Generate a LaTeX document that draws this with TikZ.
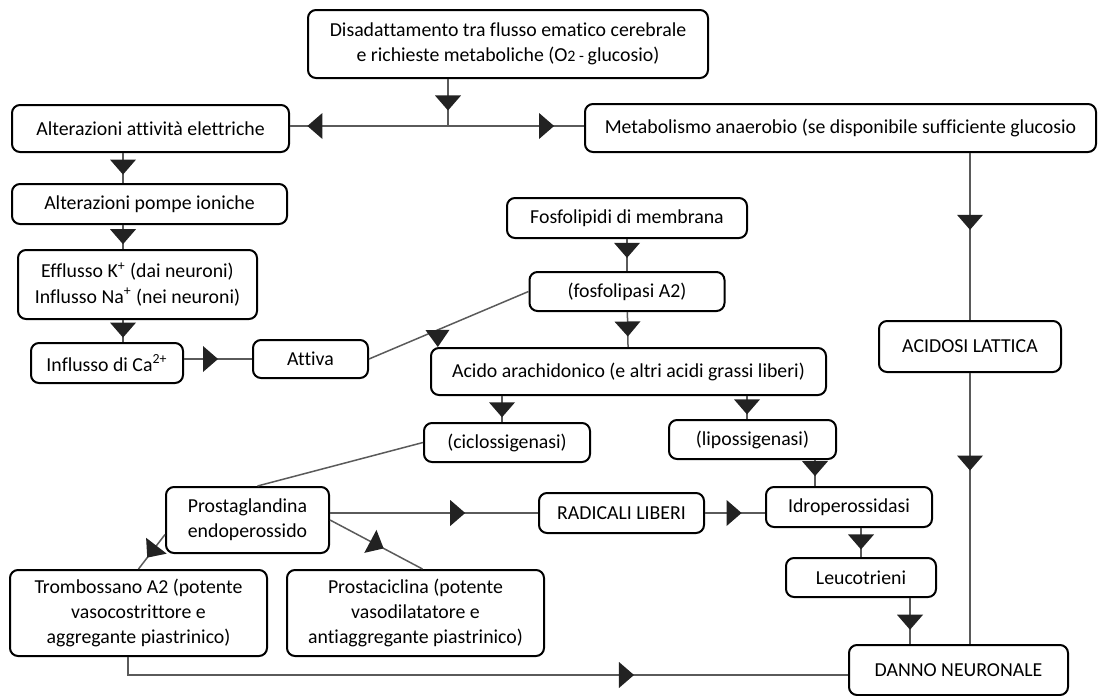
\documentclass[tikz,border=0pt]{standalone}
\usepackage{fontspec}
\setmainfont{Carlito}[Ligatures={NoCommon}]
\definecolor{LineGrey}{HTML}{5A5A5A}
\definecolor{TipDark}{HTML}{222222}
\usetikzlibrary{positioning,decorations.markings}

\begin{document}
\begin{tikzpicture}[
  x=0.5pt,y=-0.5pt,
  every node/.style={font=\fontsize{9.9}{12.6}\selectfont,align=center},
  box/.style={draw=black,line width=1pt,rounded corners=4pt,fill=white,inner sep=0pt},
  conn/.style={draw=LineGrey,line width=0.75pt},
  midtip/.style={postaction={decorate,decoration={markings,mark=at position #1 with {\fill[TipDark] (0,0) -- (-7.5pt,6.5pt) -- (-7.5pt,-6.5pt) -- cycle;}}}},
  turntip/.style 2 args={postaction={decorate,decoration={markings,mark=at position #1 with {\fill[TipDark,rotate=#2] (8.5pt,0) -- (0,6pt) -- (0,-6pt) -- cycle;}}}}
]
\useasboundingbox (0,0) rectangle (1099,696);

\node[box,minimum width=200pt,minimum height=34pt] (dis) at (508,44) {Disadattamento tra flusso ematico cerebrale\\e richieste metaboliche (O{\footnotesize 2 - }glucosio)};
\node[box,minimum width=138.5pt,minimum height=23.5pt] (alt) at (150.5,128.5) {Alterazioni attività elettriche};
\node[box,minimum width=255.5pt,minimum height=24pt] (meta) at (840.5,128) {Metabolismo anaerobio (se disponibile sufficiente glucosio};
\node[box,minimum width=137.5pt,minimum height=20pt] (pompe) at (149.5,204) {Alterazioni pompe ioniche};
\node[box,minimum width=119.5pt,minimum height=34.5pt] (eff) at (137.5,284.5) {Efflusso K\textsuperscript{+} (dai neuroni)\\Influsso Na\textsuperscript{+} (nei neuroni)};
\node[box,minimum width=76pt,minimum height=20pt] (ca) at (107,363) {Influsso di Ca\textsuperscript{2+}};
\node[box,minimum width=57.5pt,minimum height=19pt] (attiva) at (310.5,359) {Attiva};
\node[box,minimum width=120pt,minimum height=20pt] (fosf) at (627,218) {Fosfolipidi di membrana};
\node[box,minimum width=97.5pt,minimum height=19.5pt] (lipasi) at (627,291.5) {(fosfolipasi A2)};
\node[box,minimum width=197.5pt,minimum height=23.5pt] (acido) at (628.5,371.5) {Acido arachidonico (e altri acidi grassi liberi)};
\node[box,minimum width=83pt,minimum height=19.5pt] (ciclo) at (507,442.5) {(ciclossigenasi)};
\node[box,minimum width=83.5pt,minimum height=19.5pt] (lipo) at (752.5,439.5) {(lipossigenasi)};
\node[box,minimum width=91pt,minimum height=25.5pt] (acidosi) at (970,346.5) {ACIDOSI LATTICA};
\node[box,minimum width=81.5pt,minimum height=33pt] (prosta) at (247.5,520) {Prostaglandina\\endoperossido};
\node[box,minimum width=82.5pt,minimum height=20pt] (radicali) at (621.5,513) {RADICALI LIBERI};
\node[box,minimum width=83pt,minimum height=20pt] (idro) at (849,507) {Idroperossidasi};
\node[box,minimum width=75pt,minimum height=19.5pt] (leuco) at (861,577.5) {Leucotrieni};
\node[box,minimum width=128.5pt,minimum height=43pt] (trombo) at (138.5,613) {Trombossano A2 (potente\\vasocostrittore e\\aggregante piastrinico)};
\node[box,minimum width=128.5pt,minimum height=43pt] (pcic) at (415.5,613) {Prostaciclina (potente\\vasodilatatore e\\antiaggregante piastrinico)};
\node[box,minimum width=109.5pt,minimum height=25pt] (danno) at (958.5,670) {DANNO NEURONALE};

\coordinate (j) at (448,126);
\coordinate (lcol) at (123,0);
\coordinate (ccol) at (502,0);
\coordinate (rcol) at (747,0);
\coordinate (kcol) at (815,0);
\coordinate (dcol) at (910,0);
\coordinate (bend) at (128,675);

\draw[conn,midtip=0.67] (dis.south -| j) -- (j);
\draw[conn,midtip=0.89] (j) -- (j -| alt.east);
\draw[conn,midtip=0.78] (j) -- (j -| meta.west);
\draw[conn,midtip=0.72] (alt.south -| lcol) -- (pompe.north -| lcol);
\draw[conn,midtip=0.8] (pompe.south -| lcol) -- (eff.north -| lcol);
\draw[conn,midtip=0.8] (eff.south -| lcol) -- (ca.north -| lcol);
\draw[conn,midtip=0.5] (ca.east |- attiva) -- (attiva.west);
\draw[conn,turntip={0.43}{-112}] (attiva.east) -- (lipasi.west);
\draw[conn,midtip=0.59] (fosf) -- (lipasi);
\draw[conn,midtip=0.7] (lipasi) -- (acido);
\draw[conn,midtip=0.82] (acido.south -| ccol) -- (ciclo.north -| ccol);
\draw[conn,midtip=0.8] (acido.south -| rcol) -- (lipo.north -| rcol);
\draw[conn] (ciclo.west) -- ([xshift=5pt]prosta.north);
\draw[conn,midtip=0.67] (prosta.190) -- (trombo.north);
\draw[conn,midtip=0.58] (prosta.east) -- ([xshift=3.5pt]pcic.north);
\draw[conn,midtip=0.65] (prosta.east |- radicali) -- (radicali.west);
\draw[conn,midtip=0.61] (radicali.east) -- (radicali.east -| idro.west);
\draw[conn,midtip=0.62] (lipo.south -| kcol) -- (idro.north -| kcol);
\draw[conn,midtip=0.74] (idro.south -| leuco) -- (leuco.north);
\draw[conn,midtip=0.69] (leuco.south -| dcol) -- (danno.north -| dcol);
\draw[conn,midtip=0.46] (meta.south -| acidosi) -- (acidosi.north);
\draw[conn,midtip=0.36] (acidosi.south) -- (danno.north -| acidosi);
\draw[conn,midtip=0.71] (trombo.south -| bend) |- (danno.west |- bend);
\end{tikzpicture}
\end{document}
